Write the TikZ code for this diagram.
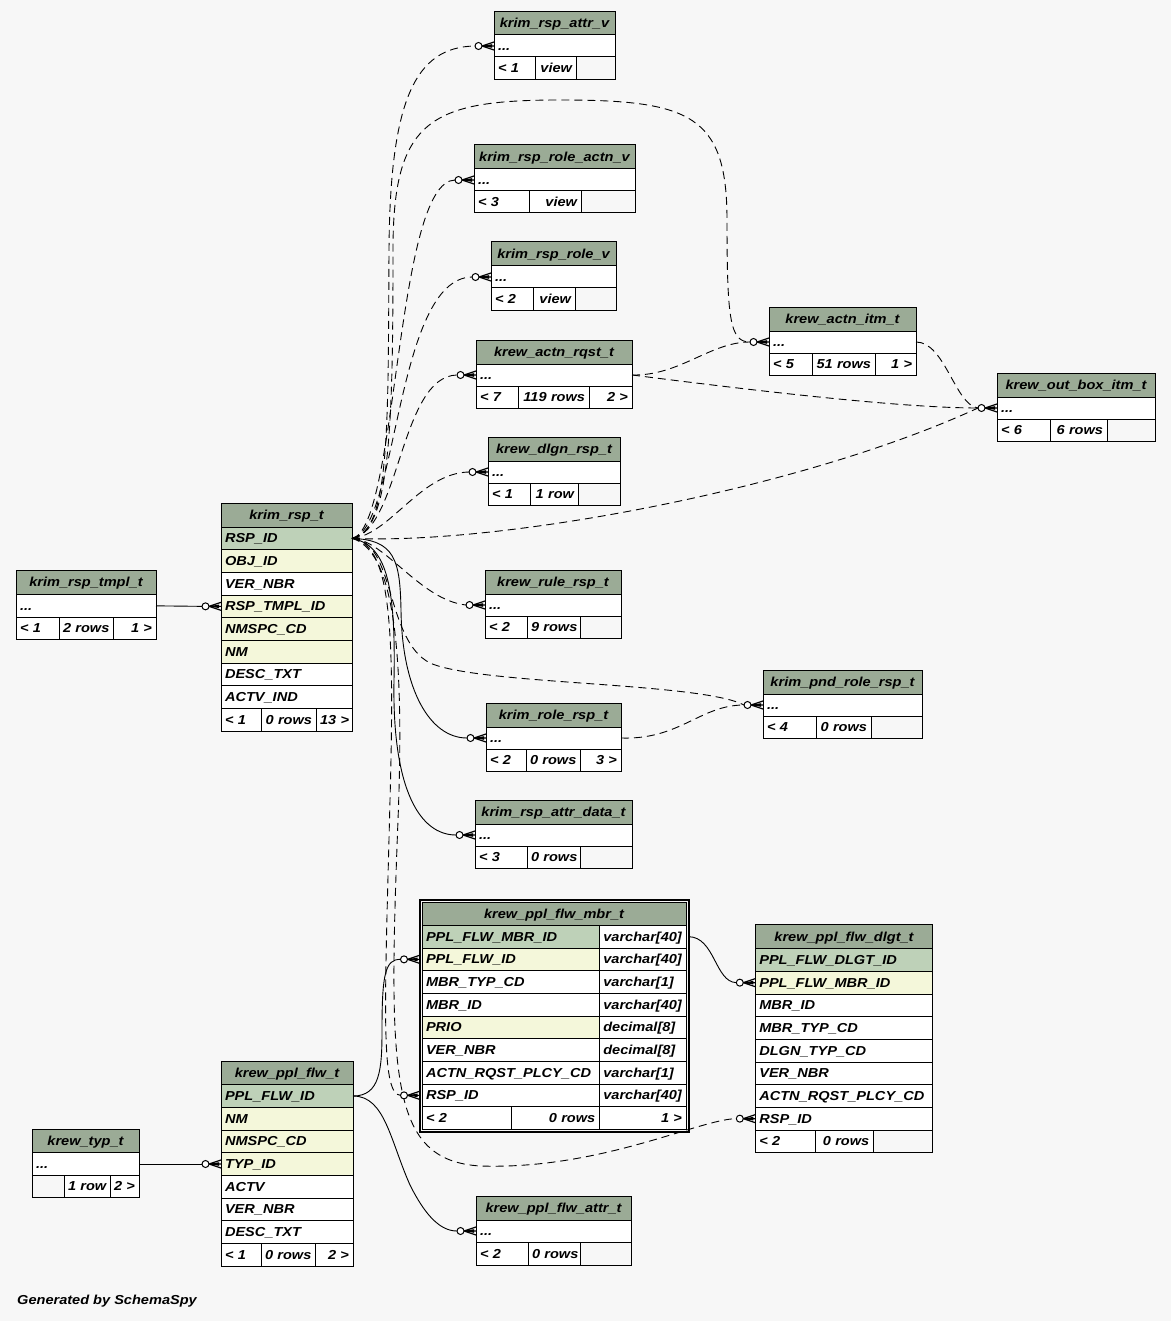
\documentclass[tikz,border=0pt]{standalone}
\usepackage{fontspec}
\setmainfont{Liberation Sans}[FakeStretch=1.12]
\usetikzlibrary{calc}
\definecolor{bgc}{HTML}{F7F7F7}
\definecolor{hdr}{HTML}{9BAB96}
\definecolor{pkc}{HTML}{BED1B8}
\definecolor{fkc}{HTML}{F4F7DA}
\newcommand{\tfont}{\fontsize{13}{15}\selectfont\bfseries\itshape}
\newcommand{\tstrutx}{\rule[-2.5pt]{0pt}{14pt}}
\newcommand{\tcell}[8]{%
  \pgfmathsetmacro{\tcw}{#4-#2-8}%
  \pgfmathsetmacro{\tcww}{#4-#2}%
  \pgfmathsetmacro{\tch}{#5-#3}%
  \node[tcellst, fill=#6, align=#7, text width=\tcw pt, minimum width=\tcww pt,
        minimum height=\tch pt, anchor=north west] (#1) at (#2,#3) {\mbox{\tstrutx#8}};}
\tikzset{
  tcellst/.style={draw=black, line width=1pt, inner xsep=4pt, inner ysep=0pt, outer sep=0pt, font=\tfont},
  rel/.style={draw=black, line width=0.9pt},
  imp/.style={rel, dash pattern=on 8pt off 5pt},
  crowfoot/.pic={
    \draw[line width=1.2pt] (-12,0) -- (0,-4) (-12,0) -- (0,0) (-12,0) -- (0,4);
    \fill (-12,0) -- (-2,-1.8) -- (-2,1.8) -- cycle;
    \draw[line width=1pt, fill=white] (-15.5,0) circle[radius=3.5pt];
  }
}
\begin{document}
\begin{tikzpicture}[x=1pt,y=-1pt]
\useasboundingbox (0,0) rectangle (1171,1321);
\fill[bgc] (0,0) rectangle (1171,1321);

% krim_rsp_attr_v
\tcell{attrv-h}{494}{12}{615}{35}{hdr}{center}{krim\_rsp\_attr\_v}
\tcell{attrv-r}{494}{35}{615}{57}{white}{left}{...}
\tcell{attrv-f1}{494}{57}{535}{80}{white}{left}{< 1}
\tcell{attrv-f2}{535}{57}{576}{80}{white}{right}{view}
\tcell{attrv-f3}{576}{57}{615}{80}{bgc}{right}{}

% krim_rsp_role_actn_v
\tcell{roleactn-h}{474}{145}{635}{169}{hdr}{center}{krim\_rsp\_role\_actn\_v}
\tcell{roleactn-r}{474}{169}{635}{191}{white}{left}{...}
\tcell{roleactn-f1}{474}{191}{529}{213}{white}{left}{< 3}
\tcell{roleactn-f2}{529}{191}{581}{213}{white}{right}{view}
\tcell{roleactn-f3}{581}{191}{635}{213}{bgc}{right}{}

% krim_rsp_role_v
\tcell{rolev-h}{491}{242}{616}{266}{hdr}{center}{krim\_rsp\_role\_v}
\tcell{rolev-r}{491}{266}{616}{288}{white}{left}{...}
\tcell{rolev-f1}{491}{288}{533}{310}{white}{left}{< 2}
\tcell{rolev-f2}{533}{288}{575}{310}{white}{right}{view}
\tcell{rolev-f3}{575}{288}{616}{310}{bgc}{right}{}

% krew_actn_rqst_t
\tcell{actnrqst-h}{476}{340}{632}{364}{hdr}{center}{krew\_actn\_rqst\_t}
\tcell{actnrqst-r}{476}{364}{632}{386}{white}{left}{...}
\tcell{actnrqst-f1}{476}{386}{518}{408}{white}{left}{< 7}
\tcell{actnrqst-f2}{518}{386}{589}{408}{white}{right}{119 rows}
\tcell{actnrqst-f3}{589}{386}{632}{408}{white}{right}{2 >}

% krew_dlgn_rsp_t
\tcell{dlgn-h}{488}{437}{620}{461}{hdr}{center}{krew\_dlgn\_rsp\_t}
\tcell{dlgn-r}{488}{461}{620}{483}{white}{left}{...}
\tcell{dlgn-f1}{488}{483}{530}{505}{white}{left}{< 1}
\tcell{dlgn-f2}{530}{483}{578}{505}{white}{right}{1 row}
\tcell{dlgn-f3}{578}{483}{620}{505}{bgc}{right}{}

% krew_rule_rsp_t
\tcell{rule-h}{485}{570}{621}{594}{hdr}{center}{krew\_rule\_rsp\_t}
\tcell{rule-r}{485}{594}{621}{616}{white}{left}{...}
\tcell{rule-f1}{485}{616}{527}{638}{white}{left}{< 2}
\tcell{rule-f2}{527}{616}{580}{638}{white}{right}{9 rows}
\tcell{rule-f3}{580}{616}{621}{638}{bgc}{right}{}

% krim_role_rsp_t
\tcell{rolersp-h}{486}{703}{621}{727}{hdr}{center}{krim\_role\_rsp\_t}
\tcell{rolersp-r}{486}{727}{621}{749}{white}{left}{...}
\tcell{rolersp-f1}{486}{749}{526}{771}{white}{left}{< 2}
\tcell{rolersp-f2}{526}{749}{580}{771}{white}{right}{0 rows}
\tcell{rolersp-f3}{580}{749}{621}{771}{white}{right}{3 >}

% krim_rsp_attr_data_t
\tcell{attrdata-h}{475}{800}{632}{824}{hdr}{center}{krim\_rsp\_attr\_data\_t}
\tcell{attrdata-r}{475}{824}{632}{846}{white}{left}{...}
\tcell{attrdata-f1}{475}{846}{527}{868}{white}{left}{< 3}
\tcell{attrdata-f2}{527}{846}{580}{868}{white}{right}{0 rows}
\tcell{attrdata-f3}{580}{846}{632}{868}{bgc}{right}{}

% krew_actn_itm_t
\tcell{actnitm-h}{769}{307}{916}{331}{hdr}{center}{krew\_actn\_itm\_t}
\tcell{actnitm-r}{769}{331}{916}{353}{white}{left}{...}
\tcell{actnitm-f1}{769}{353}{812}{375}{white}{left}{< 5}
\tcell{actnitm-f2}{812}{353}{875}{375}{white}{right}{51 rows}
\tcell{actnitm-f3}{875}{353}{916}{375}{white}{right}{1 >}

% krew_out_box_itm_t
\tcell{outbox-h}{997}{373}{1155}{397}{hdr}{center}{krew\_out\_box\_itm\_t}
\tcell{outbox-r}{997}{397}{1155}{419}{white}{left}{...}
\tcell{outbox-f1}{997}{419}{1050}{441}{white}{left}{< 6}
\tcell{outbox-f2}{1050}{419}{1107}{441}{white}{right}{6 rows}
\tcell{outbox-f3}{1107}{419}{1155}{441}{bgc}{right}{}

% krim_pnd_role_rsp_t
\tcell{pnd-h}{763}{670}{922}{694}{hdr}{center}{krim\_pnd\_role\_rsp\_t}
\tcell{pnd-r}{763}{694}{922}{716}{white}{left}{...}
\tcell{pnd-f1}{763}{716}{816}{738}{white}{left}{< 4}
\tcell{pnd-f2}{816}{716}{871}{738}{white}{right}{0 rows}
\tcell{pnd-f3}{871}{716}{922}{738}{bgc}{right}{}

% krim_rsp_tmpl_t
\tcell{tmpl-h}{16}{570}{156}{594}{hdr}{center}{krim\_rsp\_tmpl\_t}
\tcell{tmpl-r}{16}{594}{156}{617.7}{white}{left}{...}
\tcell{tmpl-f1}{16}{617.7}{59}{639}{white}{left}{< 1}
\tcell{tmpl-f2}{59}{617.7}{113}{639}{white}{right}{2 rows}
\tcell{tmpl-f3}{113}{617.7}{156}{639}{white}{right}{1 >}

% krim_rsp_t
\tcell{rsp-h}{221}{503}{352}{527}{hdr}{center}{krim\_rsp\_t}
\tcell{rsp-pk}{221}{527}{352}{549.7}{pkc}{left}{RSP\_ID}
\tcell{rsp-obj}{221}{549.7}{352}{572.3}{fkc}{left}{OBJ\_ID}
\tcell{rsp-ver}{221}{572.3}{352}{595}{white}{left}{VER\_NBR}
\tcell{rsp-tmpl}{221}{595}{352}{617.7}{fkc}{left}{RSP\_TMPL\_ID}
\tcell{rsp-nmspc}{221}{617.7}{352}{640.3}{fkc}{left}{NMSPC\_CD}
\tcell{rsp-nm}{221}{640.3}{352}{663}{fkc}{left}{NM}
\tcell{rsp-desc}{221}{663}{352}{685.7}{white}{left}{DESC\_TXT}
\tcell{rsp-actv}{221}{685.7}{352}{708.3}{white}{left}{ACTV\_IND}
\tcell{rsp-f1}{221}{708.3}{261}{731}{white}{left}{< 1}
\tcell{rsp-f2}{261}{708.3}{316}{731}{white}{right}{0 rows}
\tcell{rsp-f3}{316}{708.3}{352}{731}{white}{right}{13 >}

% krew_ppl_flw_mbr_t
\node[draw=black, line width=2pt, outer sep=0pt, inner sep=0pt, minimum width=269pt,
      minimum height=232pt, anchor=north west] (mbrframe) at (419.5,899.5) {};
\tcell{mbr-h}{422}{902}{686}{925.3}{hdr}{center}{krew\_ppl\_flw\_mbr\_t}
\tcell{mbr-pk}{422}{925.3}{599.3}{948}{pkc}{left}{PPL\_FLW\_MBR\_ID}
\tcell{mbr-pkt}{599.3}{925.3}{686}{948}{white}{left}{varchar[40]}
\tcell{mbr-fk}{422}{948}{599.3}{970.7}{fkc}{left}{PPL\_FLW\_ID}
\tcell{mbr-fkt}{599.3}{948}{686}{970.7}{white}{left}{varchar[40]}
\tcell{mbr-typ}{422}{970.7}{599.3}{993.3}{white}{left}{MBR\_TYP\_CD}
\tcell{mbr-typt}{599.3}{970.7}{686}{993.3}{white}{left}{varchar[1]}
\tcell{mbr-id}{422}{993.3}{599.3}{1016}{white}{left}{MBR\_ID}
\tcell{mbr-idt}{599.3}{993.3}{686}{1016}{white}{left}{varchar[40]}
\tcell{mbr-prio}{422}{1016}{599.3}{1038.7}{fkc}{left}{PRIO}
\tcell{mbr-priot}{599.3}{1016}{686}{1038.7}{white}{left}{decimal[8]}
\tcell{mbr-ver}{422}{1038.7}{599.3}{1061.3}{white}{left}{VER\_NBR}
\tcell{mbr-vert}{599.3}{1038.7}{686}{1061.3}{white}{left}{decimal[8]}
\tcell{mbr-actn}{422}{1061.3}{599.3}{1084}{white}{left}{ACTN\_RQST\_PLCY\_CD}
\tcell{mbr-actnt}{599.3}{1061.3}{686}{1084}{white}{left}{varchar[1]}
\tcell{mbr-rsp}{422}{1084}{599.3}{1106.7}{white}{left}{RSP\_ID}
\tcell{mbr-rspt}{599.3}{1084}{686}{1106.7}{white}{left}{varchar[40]}
\tcell{mbr-f1}{422}{1106.7}{511.3}{1129.3}{white}{left}{< 2}
\tcell{mbr-f2}{511.3}{1106.7}{599.3}{1129.3}{white}{right}{0 rows}
\tcell{mbr-f3}{599.3}{1106.7}{686}{1129.3}{white}{right}{1 >}
\coordinate (mbrfk-in) at (mbr-fk.west -| mbrframe.west);
\coordinate (mbrrsp-in) at (mbr-rsp.west -| mbrframe.west);
\coordinate (mbrpk-out) at (mbr-pk.east -| mbrframe.east);

% krew_ppl_flw_dlgt_t
\tcell{dlgt-h}{755.3}{924.7}{932.7}{948.7}{hdr}{center}{krew\_ppl\_flw\_dlgt\_t}
\tcell{dlgt-pk}{755.3}{948.7}{932.7}{971.3}{pkc}{left}{PPL\_FLW\_DLGT\_ID}
\tcell{dlgt-fk}{755.3}{971.3}{932.7}{994}{fkc}{left}{PPL\_FLW\_MBR\_ID}
\tcell{dlgt-mbr}{755.3}{994}{932.7}{1016.7}{white}{left}{MBR\_ID}
\tcell{dlgt-typ}{755.3}{1016.7}{932.7}{1039.3}{white}{left}{MBR\_TYP\_CD}
\tcell{dlgt-dlgn}{755.3}{1039.3}{932.7}{1062}{white}{left}{DLGN\_TYP\_CD}
\tcell{dlgt-ver}{755.3}{1062}{932.7}{1084.7}{white}{left}{VER\_NBR}
\tcell{dlgt-actn}{755.3}{1084.7}{932.7}{1107.3}{white}{left}{ACTN\_RQST\_PLCY\_CD}
\tcell{dlgt-rsp}{755.3}{1107.3}{932.7}{1130}{white}{left}{RSP\_ID}
\tcell{dlgt-f1}{755.3}{1130}{815.3}{1152.7}{white}{left}{< 2}
\tcell{dlgt-f2}{815.3}{1130}{873.3}{1152.7}{white}{right}{0 rows}
\tcell{dlgt-f3}{873.3}{1130}{932.7}{1152.7}{bgc}{right}{}

% krew_ppl_flw_t
\tcell{pf-h}{221}{1061}{353}{1084.7}{hdr}{center}{krew\_ppl\_flw\_t}
\tcell{pf-pk}{221}{1084.7}{353}{1107.3}{pkc}{left}{PPL\_FLW\_ID}
\tcell{pf-nm}{221}{1107.3}{353}{1130}{fkc}{left}{NM}
\tcell{pf-nmspc}{221}{1130}{353}{1152.7}{fkc}{left}{NMSPC\_CD}
\tcell{pf-typ}{221}{1152.7}{353}{1175.3}{fkc}{left}{TYP\_ID}
\tcell{pf-actv}{221}{1175.3}{353}{1198}{white}{left}{ACTV}
\tcell{pf-ver}{221}{1198}{353}{1220.7}{white}{left}{VER\_NBR}
\tcell{pf-desc}{221}{1220.7}{353}{1243.3}{white}{left}{DESC\_TXT}
\tcell{pf-f1}{221}{1243.3}{261}{1266}{white}{left}{< 1}
\tcell{pf-f2}{261}{1243.3}{315}{1266}{white}{right}{0 rows}
\tcell{pf-f3}{315}{1243.3}{353}{1266}{white}{right}{2 >}

% krew_typ_t
\tcell{typ-h}{32}{1129}{139}{1152.7}{hdr}{center}{krew\_typ\_t}
\tcell{typ-r}{32}{1152.7}{139}{1175.3}{white}{left}{...}
\tcell{typ-f1}{32}{1175.3}{64}{1197}{bgc}{left}{}
\tcell{typ-f2}{64}{1175.3}{110}{1197}{white}{right}{1 row}
\tcell{typ-f3}{110}{1175.3}{139}{1197}{white}{right}{2 >}

% krew_ppl_flw_attr_t
\tcell{pfattr-h}{476}{1196}{631}{1220}{hdr}{center}{krew\_ppl\_flw\_attr\_t}
\tcell{pfattr-r}{476}{1220}{631}{1242}{white}{left}{...}
\tcell{pfattr-f1}{476}{1242}{528}{1265}{white}{left}{< 2}
\tcell{pfattr-f2}{528}{1242}{580}{1265}{white}{right}{0 rows}
\tcell{pfattr-f3}{580}{1242}{631}{1265}{bgc}{right}{}

\node[anchor=west, inner sep=0pt, font=\tfont] (gen) at (17,1301) {Generated by SchemaSpy};

% ---------- connectors ----------
\draw[imp] (rsp-pk.east) .. controls (390,532) and (388,430) .. (389,250) .. controls (390,100) and (415,47) .. ([xshift=-19pt]attrv-r.west);
\draw[imp] (rsp-pk.east) .. controls (390,532) and (393,430) .. (393,250) .. controls (393,120) and (430,100) .. (560,100) .. controls (690,100) and (727,115) .. (727,220) .. controls (727,320) and (730,342) .. ([xshift=-19pt]actnitm-r.west);
\draw[imp] (rsp-pk.east) .. controls (398,530) and (395,181) .. ([xshift=-19pt]roleactn-r.west);
\draw[imp] (rsp-pk.east) .. controls (398,530) and (395,278) .. ([xshift=-19pt]rolev-r.west);
\draw[imp] (rsp-pk.east) .. controls (400,530) and (400,376) .. ([xshift=-19pt]actnrqst-r.west);
\draw[imp] (rsp-pk.east) .. controls (390,535) and (420,473) .. ([xshift=-19pt]dlgn-r.west);
\draw[imp] (rsp-pk.east) .. controls (385,540) and (420,600) .. ([xshift=-19pt]rule-r.west);
\draw[rel] (rsp-pk.east) .. controls (395,540) and (400,560) .. (401,610) .. controls (402,690) and (430,738) .. ([xshift=-19pt]rolersp-r.west);
\draw[rel] (rsp-pk.east) .. controls (385,545) and (396,580) .. (394,680) .. controls (392,790) and (420,835) .. ([xshift=-19pt]attrdata-r.west);
\draw[imp] (rsp-pk.east) .. controls (395,540) and (385,640) .. (430,663) .. controls (480,685) and (700,682) .. ([xshift=-19pt]pnd-r.west);
\draw[imp] (rsp-pk.east) .. controls (500,545) and (800,490) .. ([xshift=-19pt]outbox-r.west);
\draw[imp] (rsp-pk.east) .. controls (390,545) and (395,620) .. (390,800) .. controls (385,1000) and (380,1095) .. ([xshift=-19pt]mbrrsp-in);
\draw[imp] (rsp-pk.east) .. controls (392,550) and (405,640) .. (398,820) .. controls (388,1080) and (390,1160) .. (480,1166) .. controls (600,1170) and (700,1119) .. ([xshift=-19pt]dlgt-rsp.west);
\draw[imp] (actnrqst-r.east) .. controls (680,376) and (710,342) .. ([xshift=-19pt]actnitm-r.west);
\draw[imp] (actnrqst-r.east) .. controls (750,390) and (900,408) .. ([xshift=-19pt]outbox-r.west);
\draw[imp] (actnitm-r.east) .. controls (945,342) and (955,405) .. ([xshift=-19pt]outbox-r.west);
\draw[imp] (rolersp-r.east) .. controls (680,740) and (700,705) .. ([xshift=-19pt]pnd-r.west);
\draw[rel] (tmpl-r.east) -- ([xshift=-19pt]rsp-tmpl.west);
\draw[rel] (typ-r.east) -- ([xshift=-19pt]pf-typ.west);
\draw[rel] (pf-pk.east) .. controls (380,1096) and (382,1070) .. (382,1030) .. controls (382,975) and (385,959) .. ([xshift=-19pt]mbrfk-in);
\draw[rel] (pf-pk.east) .. controls (385,1096) and (390,1140) .. (410,1185) .. controls (425,1215) and (440,1231) .. ([xshift=-19pt]pfattr-r.west);
\draw[rel] (mbrpk-out) .. controls (715,937) and (715,982) .. ([xshift=-19pt]dlgt-fk.west);

% crow's feet at child ends
\pic at (attrv-r.west) {crowfoot};
\pic at (roleactn-r.west) {crowfoot};
\pic at (rolev-r.west) {crowfoot};
\pic at (actnrqst-r.west) {crowfoot};
\pic at (dlgn-r.west) {crowfoot};
\pic at (rule-r.west) {crowfoot};
\pic at (rolersp-r.west) {crowfoot};
\pic at (attrdata-r.west) {crowfoot};
\pic at (actnitm-r.west) {crowfoot};
\pic at (outbox-r.west) {crowfoot};
\pic at (pnd-r.west) {crowfoot};
\pic at (rsp-tmpl.west) {crowfoot};
\pic at (pf-typ.west) {crowfoot};
\pic at (mbrfk-in) {crowfoot};
\pic at (mbrrsp-in) {crowfoot};
\pic at (dlgt-fk.west) {crowfoot};
\pic at (dlgt-rsp.west) {crowfoot};
\pic at (pfattr-r.west) {crowfoot};
\end{tikzpicture}
\end{document}
